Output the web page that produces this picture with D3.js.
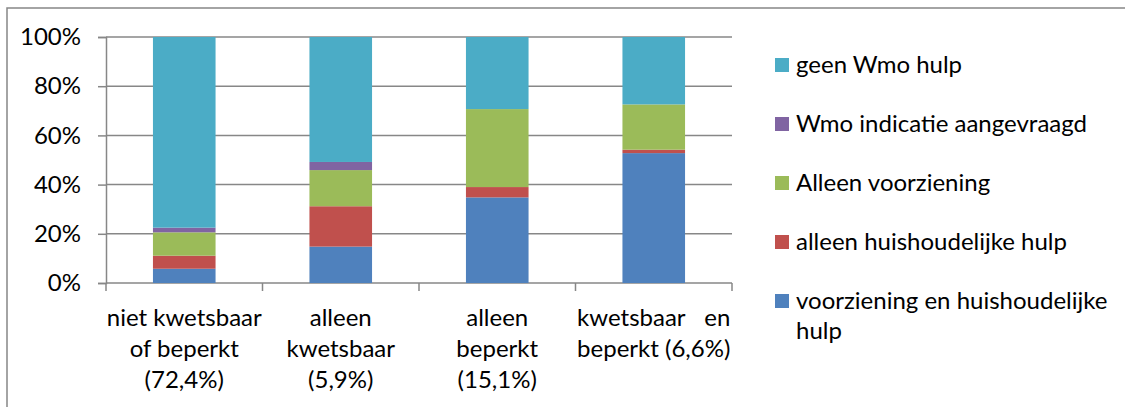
<!DOCTYPE html>
<html>
<head>
<meta charset="utf-8">
<script src="https://cdn.jsdelivr.net/npm/d3@7"></script>
<style>
  body { margin: 0; background: #fff; }
  text { font-family: Lato, "Open Sans", sans-serif; fill: #000; }
</style>
</head>
<body>
<script>
// categories (label lines) and shares per series, bottom to top
const categories = [
  ["niet kwetsbaar", "of beperkt", "(72,4%)"],
  ["alleen", "kwetsbaar", "(5,9%)"],
  ["alleen", "beperkt", "(15,1%)"],
  ["kwetsbaar en", "beperkt (6,6%)"]
];
const seriesNames = [
  "voorziening en huishoudelijke hulp",
  "alleen huishoudelijke hulp",
  "Alleen voorziening",
  "Wmo indicatie aangevraagd",
  "geen Wmo hulp"
];
const voorzieningEnHulp = [5.8, 14.8, 34.8, 52.8];
const alleenHulp = [5.3, 16.4, 4.2, 1.4];
const alleenVoorziening = [9.5, 14.7, 31.7, 18.4];
const indicatieAangevraagd = [1.9, 3.3, 0, 0];
const geenHulp = [77.5, 50.8, 29.3, 27.4];
const yTicks = [0, 20, 40, 60, 80, 100];

const colors = ["#4f81bd", "#c0504d", "#9bbb59", "#8064a2", "#4bacc6"];

const width = 1125, height = 407;
const margin = { left: 106, top: 37, right: 393, bottom: 124 };
const gray = "#878787";
const fs = 24;

const svg = d3.select("body").append("svg")
  .attr("width", width).attr("height", height);

// outer chart border (clipped at right and bottom)
svg.append("rect")
  .attr("x", 7).attr("y", 8)
  .attr("width", width).attr("height", height)
  .attr("fill", "none").attr("stroke", gray).attr("stroke-width", 1.5);

const rows = categories.map((c, i) => ({
  key: i,
  s0: voorzieningEnHulp[i],
  s1: alleenHulp[i],
  s2: alleenVoorziening[i],
  s3: indicatieAangevraagd[i],
  s4: geenHulp[i]
}));
const keys = ["s0", "s1", "s2", "s3", "s4"];

const x = d3.scaleBand()
  .domain(rows.map(d => d.key))
  .range([margin.left, width - margin.right])
  .paddingInner(0.6).paddingOuter(0.3);
const y = d3.scaleLinear().domain([0, 100])
  .range([height - margin.bottom, margin.top]);

// gridlines
svg.append("g")
  .selectAll("line")
  .data(yTicks)
  .join("line")
  .attr("x1", margin.left).attr("x2", width - margin.right)
  .attr("y1", d => y(d)).attr("y2", d => y(d))
  .attr("stroke", gray).attr("stroke-width", 1.5);

// y axis
const yAxis = svg.append("g")
  .attr("transform", `translate(${margin.left},0)`)
  .call(d3.axisLeft(y).tickValues(yTicks).tickFormat(d => d + "%").tickSize(8).tickPadding(17));
yAxis.select(".domain").attr("stroke", gray).attr("stroke-width", 1.5);
yAxis.selectAll(".tick line").attr("stroke", gray).attr("stroke-width", 1.5);
yAxis.selectAll("text").attr("font-size", fs).attr("fill", "#000")
  .style("font-family", "Lato, sans-serif");

// x axis boundary ticks
const step = x.step();
const bounds = d3.range(rows.length + 1).map(i => margin.left + i * step);
svg.append("g")
  .selectAll("line")
  .data(bounds)
  .join("line")
  .attr("x1", d => d).attr("x2", d => d)
  .attr("y1", y(0)).attr("y2", y(0) + 8)
  .attr("stroke", gray).attr("stroke-width", 1.5);

// stacked bars
const stack = d3.stack().keys(keys)(rows);
svg.append("g")
  .selectAll("g")
  .data(stack)
  .join("g")
  .attr("fill", (d, i) => colors[i])
  .selectAll("rect")
  .data(d => d)
  .join("rect")
  .attr("x", d => x(d.data.key))
  .attr("width", x.bandwidth())
  .attr("y", d => y(d[1]))
  .attr("height", d => y(d[0]) - y(d[1]));

// category labels
const labelG = svg.append("g");
categories.forEach((lines, i) => {
  const cx = x(i) + x.bandwidth() / 2;
  const t = labelG.append("text")
    .attr("font-size", fs)
    .attr("text-anchor", "middle");
  lines.forEach((ln, j) => {
    t.append("tspan")
      .attr("x", cx)
      .attr("y", 326 + j * 31)
      .text(ln);
  });
  if (i === categories.length - 1) {
    // justified first line: words pushed to both edges of the second line
    const spans = t.selectAll("tspan").nodes();
    const w = spans[1].getComputedTextLength();
    const words = lines[0].split(" ");
    d3.select(spans[0]).remove();
    labelG.append("text").attr("font-size", fs).attr("text-anchor", "start")
      .attr("x", cx - w / 2).attr("y", 326).text(words[0]);
    labelG.append("text").attr("font-size", fs).attr("text-anchor", "end")
      .attr("x", cx + w / 2).attr("y", 326).text(words[1]);
  }
});

// legend
const legendOrder = [4, 3, 2, 1, 0];
const legend = svg.append("g");
legendOrder.forEach((si, j) => {
  const cy = 65 + j * 59;
  legend.append("rect")
    .attr("x", 775).attr("y", cy - 7)
    .attr("width", 14).attr("height", 14)
    .attr("fill", colors[si]);
  const t = legend.append("text").attr("font-size", fs);
  const name = seriesNames[si];
  const parts = name === "voorziening en huishoudelijke hulp"
    ? ["voorziening en huishoudelijke", "hulp"] : [name];
  parts.forEach((p, k) => {
    t.append("tspan")
      .attr("x", 796)
      .attr("y", cy + 8 + k * 30)
      .text(p);
  });
});
</script>
</body>
</html>
